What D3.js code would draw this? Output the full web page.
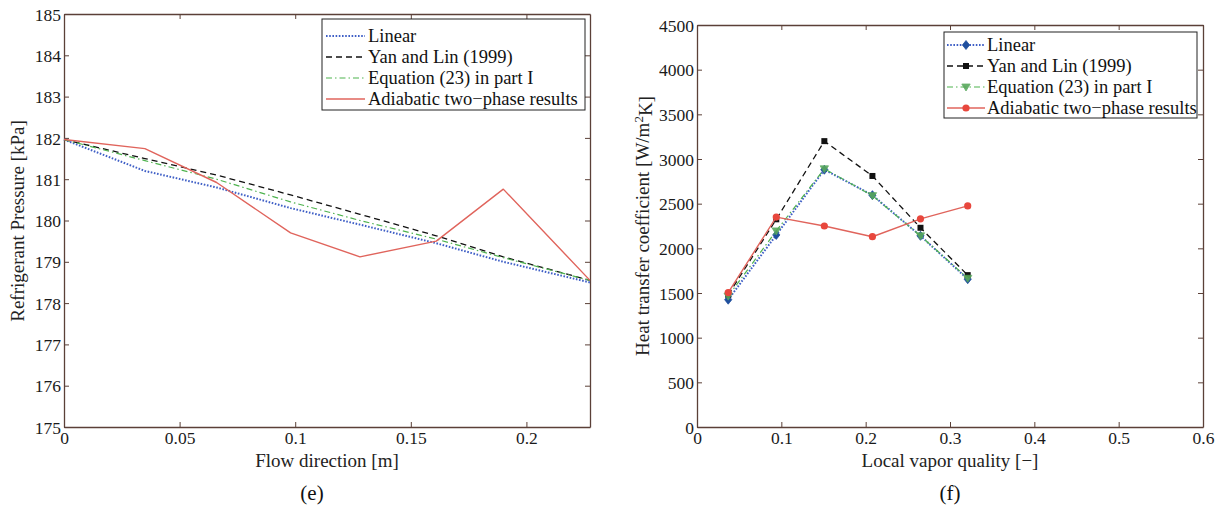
<!DOCTYPE html>
<html>
<head>
<meta charset="utf-8">
<script src="https://cdn.jsdelivr.net/npm/d3@7"></script>
<style>
  html, body { margin: 0; padding: 0; background: #fff; }
  svg { display: block; font-family: "Liberation Serif", "Times New Roman", serif; }
</style>
</head>
<body>
<svg id="chart" width="1225" height="512"></svg>
<script>
// ---- Panel (e): pressure along the flow direction ----
const flowPos      = [0, 0.035, 0.066, 0.098, 0.128, 0.161, 0.19, 0.2275];
const pLinear      = [181.96, 181.2, 180.8, 180.3, 179.9, 179.45, 179.0, 178.5];
const pYanLin      = [181.96, 181.5, 181.1, 180.62, 180.15, 179.63, 179.12, 178.55];
const pEquation23  = [181.96, 181.45, 181.0, 180.45, 180.0, 179.55, 179.1, 178.55];
const pAdiabatic   = [181.96, 181.74, 180.92, 179.7, 179.12, 179.5, 180.76, 178.55];
const pressureTicks = [175, 176, 177, 178, 179, 180, 181, 182, 183, 184, 185];
const flowTicks     = [0, 0.05, 0.1, 0.15, 0.2];

// ---- Panel (f): heat transfer coefficient vs vapor quality ----
const quality      = [0.037, 0.094, 0.151, 0.208, 0.265, 0.321];
const hLinear      = [1425, 2150, 2880, 2595, 2140, 1655];
const hYanLin      = [1480, 2325, 3200, 2810, 2230, 1700];
const hEquation23  = [1465, 2195, 2890, 2590, 2140, 1665];
const hAdiabatic   = [1505, 2350, 2250, 2130, 2330, 2475];
const htcTicks     = [0, 500, 1000, 1500, 2000, 2500, 3000, 3500, 4000, 4500];
const qualityTicks = [0, 0.1, 0.2, 0.3, 0.4, 0.5, 0.6];

const seriesNames = ["Linear", "Yan and Lin (1999)", "Equation (23) in part I", "Adiabatic two\u2212phase results"];

const axisColor = "#5b4038";
const FONT = "Liberation Serif";
const styles = [
  { color: "#3f5fc6", dash: "1.6,1.6", width: 2.0, marker: "diamond", mColor: "#1f4f9e" },
  { color: "#111111", dash: "6,4",     width: 1.3, marker: "square",  mColor: "#111111" },
  { color: "#4fb34f", dash: "6,3,1.5,3", width: 1.2, marker: "tri",   mColor: "#58a85c" },
  { color: "#e0645c", dash: null,      width: 1.4, marker: "circle",  mColor: "#e8473d" }
];

const svg = d3.select("#chart");

function drawFrame(g, x, y, xTicks, yTicks, xFmt, yFmt) {
  const [x0, x1] = x.range();
  const [y0, y1] = y.range();
  const bottom = g.append("g").attr("transform", `translate(0,${y0})`)
    .call(d3.axisBottom(x).tickValues(xTicks).tickFormat(xFmt).tickSizeInner(-5).tickSizeOuter(0).tickPadding(5));
  const left = g.append("g").attr("transform", `translate(${x0},0)`)
    .call(d3.axisLeft(y).tickValues(yTicks).tickFormat(yFmt).tickSizeInner(-5).tickSizeOuter(0).tickPadding(3));
  const top = g.append("g").attr("transform", `translate(0,${y1})`)
    .call(d3.axisTop(x).tickValues(xTicks).tickFormat("").tickSizeInner(-5).tickSizeOuter(0));
  const right = g.append("g").attr("transform", `translate(${x1},0)`)
    .call(d3.axisRight(y).tickValues(yTicks).tickFormat("").tickSizeInner(-5).tickSizeOuter(0));
  [bottom, left, top, right].forEach(a => {
    a.attr("font-family", FONT).attr("font-size", 17.5);
    a.select(".domain").attr("stroke", axisColor).attr("stroke-width", 1.3);
    a.selectAll(".tick line").attr("stroke", axisColor).attr("stroke-width", 1);
    a.selectAll(".tick text").attr("fill", "#1a1a1a");
  });
  left.selectAll(".tick text").attr("dy", "0.35em");
}

function drawLine(g, x, y, xs, ys, st) {
  const line = d3.line().x((d, i) => x(xs[i])).y(d => y(d));
  const p = g.append("path").datum(ys).attr("d", line)
    .attr("fill", "none").attr("stroke", st.color).attr("stroke-width", st.width)
    .attr("stroke-linejoin", "round");
  if (st.dash) p.attr("stroke-dasharray", st.dash);
}

function drawMarker(g, cx, cy, st) {
  if (st.marker === "diamond") {
    g.append("path").attr("d", `M${cx},${cy - 4.5}L${cx + 3.6},${cy}L${cx},${cy + 4.5}L${cx - 3.6},${cy}Z`)
      .attr("fill", st.mColor).attr("stroke", st.mColor).attr("stroke-width", 0.8);
  } else if (st.marker === "square") {
    g.append("rect").attr("x", cx - 3).attr("y", cy - 3).attr("width", 6).attr("height", 6)
      .attr("fill", st.mColor);
  } else if (st.marker === "tri") {
    g.append("path").attr("d", `M${cx - 4.2},${cy - 3}L${cx + 4.2},${cy - 3}L${cx},${cy + 4}Z`)
      .attr("fill", st.mColor).attr("stroke", st.mColor).attr("stroke-width", 0.8).attr("opacity", 0.9);
  } else {
    g.append("circle").attr("cx", cx).attr("cy", cy).attr("r", 3.6).attr("fill", st.mColor);
  }
}

function drawLegend(g, bx, by, bw, bh, rows, textX, sx0, sx1, withMarkers) {
  g.append("rect").attr("x", bx).attr("y", by).attr("width", bw).attr("height", bh)
    .attr("fill", "#fff").attr("stroke", "#222").attr("stroke-width", 1);
  seriesNames.forEach((name, i) => {
    const st = styles[i];
    const yy = rows[i];
    const l = g.append("line").attr("x1", sx0).attr("x2", sx1).attr("y1", yy).attr("y2", yy)
      .attr("stroke", st.color).attr("stroke-width", st.width);
    if (st.dash) l.attr("stroke-dasharray", st.dash);
    if (withMarkers) drawMarker(g, (sx0 + sx1) / 2, yy, st);
    g.append("text").attr("x", textX).attr("y", yy).attr("dy", "0.33em")
      .attr("font-family", FONT).attr("font-size", 18.5).attr("fill", "#111").text(name);
  });
}

// ---------- Panel (e) ----------
{
  const g = svg.append("g");
  const x = d3.scaleLinear().domain([0, 0.2275]).range([64, 590]);
  const y = d3.scaleLinear().domain([175, 185]).range([427, 14]);
  drawFrame(g, x, y, flowTicks, pressureTicks, d => String(d), d => String(d));

  const plot = g.append("g");
  [pLinear, pYanLin, pEquation23, pAdiabatic].forEach((ys, i) => drawLine(plot, x, y, flowPos, ys, styles[i]));

  drawLegend(g, 322, 19, 263, 91, [36, 57, 78, 99], 368, 326, 365, false);

  g.append("text").attr("x", 327).attr("y", 467).attr("text-anchor", "middle")
    .attr("font-family", FONT).attr("font-size", 19).attr("fill", "#222").text("Flow direction [m]");
  g.append("text").attr("transform", "translate(24,221) rotate(-90)").attr("text-anchor", "middle")
    .attr("font-family", FONT).attr("font-size", 19).attr("fill", "#222").text("Refrigerant Pressure [kPa]");
  g.append("text").attr("x", 312).attr("y", 500).attr("text-anchor", "middle")
    .attr("font-family", FONT).attr("font-size", 21).attr("fill", "#111").text("(e)");
}

// ---------- Panel (f) ----------
{
  const g = svg.append("g");
  const x = d3.scaleLinear().domain([0, 0.6]).range([697, 1203]);
  const y = d3.scaleLinear().domain([0, 4500]).range([427, 25]);
  drawFrame(g, x, y, qualityTicks, htcTicks, d => String(d), d => String(d));

  const plot = g.append("g");
  const sets = [hLinear, hYanLin, hEquation23, hAdiabatic];
  sets.forEach((ys, i) => {
    drawLine(plot, x, y, quality, ys, styles[i]);
    ys.forEach((v, j) => drawMarker(plot, x(quality[j]), y(v), styles[i]));
  });

  drawLegend(g, 944, 32, 253, 86, [45, 66, 87, 108], 987, 947, 985, true);

  g.append("text").attr("x", 950).attr("y", 467).attr("text-anchor", "middle")
    .attr("font-family", FONT).attr("font-size", 19).attr("fill", "#222").text("Local vapor quality [\u2212]");
  const yl = g.append("text").attr("transform", "translate(649,226) rotate(-90)").attr("text-anchor", "middle")
    .attr("font-family", FONT).attr("font-size", 19).attr("fill", "#222");
  yl.append("tspan").text("Heat transfer coefficient [W/m");
  yl.append("tspan").attr("dy", "-0.45em").attr("font-size", 13).text("2");
  yl.append("tspan").attr("dy", "0.45em").text("K]");
  g.append("text").attr("x", 950).attr("y", 500).attr("text-anchor", "middle")
    .attr("font-family", FONT).attr("font-size", 21).attr("fill", "#111").text("(f)");
}
</script>
</body>
</html>
